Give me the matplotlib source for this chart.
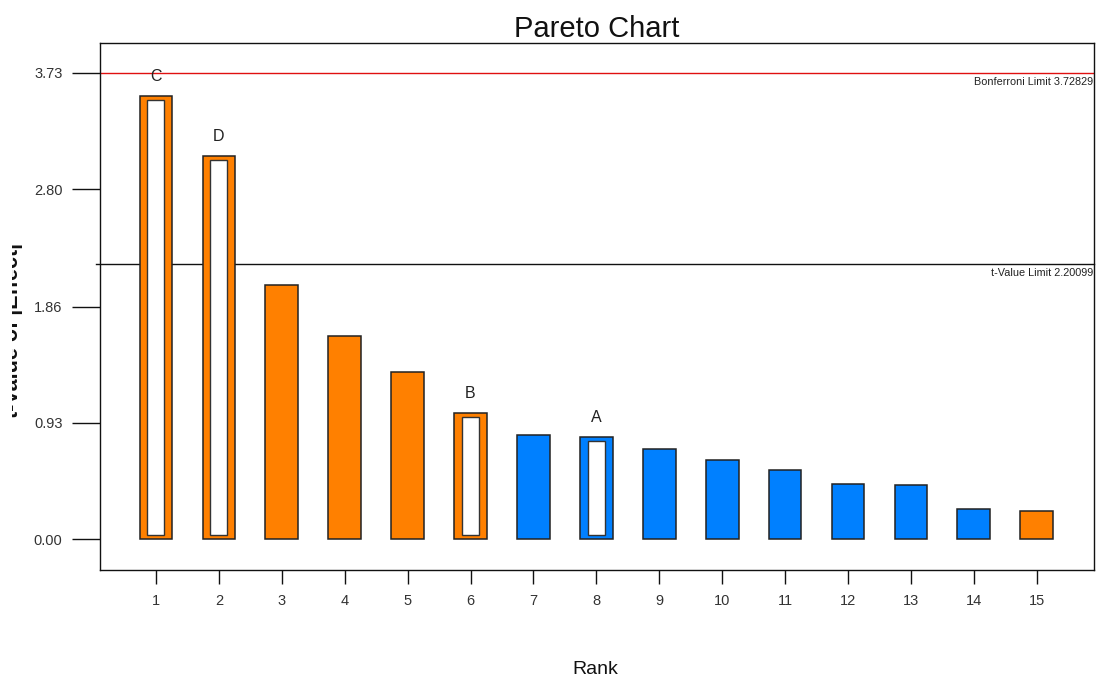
import matplotlib
matplotlib.use("Agg")
import matplotlib.pyplot as plt
from matplotlib.patches import Rectangle

plt.rcParams['font.family'] = ['Liberation Sans', 'DejaVu Sans']

# Effects ranked by |t|
ranks = list(range(1, 16))
t_values = [3.546, 3.066, 2.033, 1.625, 1.337, 1.009, 0.832, 0.816,
            0.720, 0.632, 0.552, 0.440, 0.432, 0.240, 0.224]
# sign of the effect: '+' positive (orange), '-' negative (blue)
signs = ['+', '+', '+', '+', '+', '+', '-', '-',
         '-', '-', '-', '-', '-', '-', '+']
# model terms (empty string = not a model term)
terms = ['C', 'D', '', '', '', 'B', '', 'A', '', '', '', '', '', '', '']

bonferroni_limit = 3.72829
t_value_limit = 2.20099
y_ticks = [0.00, 0.93, 1.86, 2.80, 3.73]

sign_colors = {'+': '#FF8000', '-': '#0080FF'}

W, H = 1096, 682
fig = plt.figure(figsize=(W / 100, H / 100), dpi=100)
ax = fig.add_axes([100 / W, 112 / H, 994 / W, 527 / H])

bar_w = 0.52
inner_w = 0.27
inset = 0.033
for r, t, s, term in zip(ranks, t_values, signs, terms):
    ax.bar(r, t, width=bar_w, color=sign_colors[s], edgecolor='#222222',
           linewidth=1.1, zorder=2)
    if term:
        ax.add_patch(Rectangle((r - inner_w / 2, inset), inner_w, t - 2 * inset,
                               facecolor='white', edgecolor='#333333',
                               linewidth=1.0, zorder=3))
        ax.text(r, t + 0.155, term, ha='center', va='center', fontsize=11.5,
                color='#222222', zorder=4)

ax.axhline(bonferroni_limit, color='#E01010', linewidth=1.0, zorder=1)
ax.axhline(t_value_limit, xmin=-0.004, color='#111111', linewidth=1.0,
           zorder=1, clip_on=False)
ax.text(15.9, bonferroni_limit - 0.03, f'Bonferroni Limit {bonferroni_limit:.5f}',
        ha='right', va='top', fontsize=7.8, color='#222222')
ax.text(15.9, t_value_limit - 0.03, f't-Value Limit {t_value_limit:.5f}',
        ha='right', va='top', fontsize=7.8, color='#222222')

ax.set_xlim(0.11, 15.91)
ax.set_ylim(-0.248, 3.97)
ax.set_xticks(ranks)
ax.set_xticklabels([str(r) for r in ranks])
ax.set_yticks(y_ticks)
ax.set_yticklabels([f'{v:.2f}' for v in y_ticks])
ax.tick_params(axis='y', length=20, width=1, pad=7, labelsize=10.5,
               colors='#111111', labelcolor='#333333')
ax.tick_params(axis='x', length=10, width=1, pad=7, labelsize=10.5,
               colors='#111111', labelcolor='#333333')
for sp in ax.spines.values():
    sp.set_linewidth(1.0)
    sp.set_color('#111111')

ax.set_title('Pareto Chart', fontsize=21, pad=3, color='#111111')
fig.text(595 / W, 12 / H, 'Rank', ha='center', va='center', fontsize=14,
         color='#111111')
fig.text(23 / W, 1 - 330 / H, 't-Value of |Effect|', rotation=90, ha='right',
         va='center', fontsize=15.5, fontweight='bold', color='#111111',
         zorder=3)
# the y label sits partly outside the visible plotting panel
fig.patches.append(Rectangle((0, 0), 12 / W, 1, transform=fig.transFigure,
                             facecolor='white', edgecolor='none', zorder=5))

fig.savefig('out.png', dpi=100)
